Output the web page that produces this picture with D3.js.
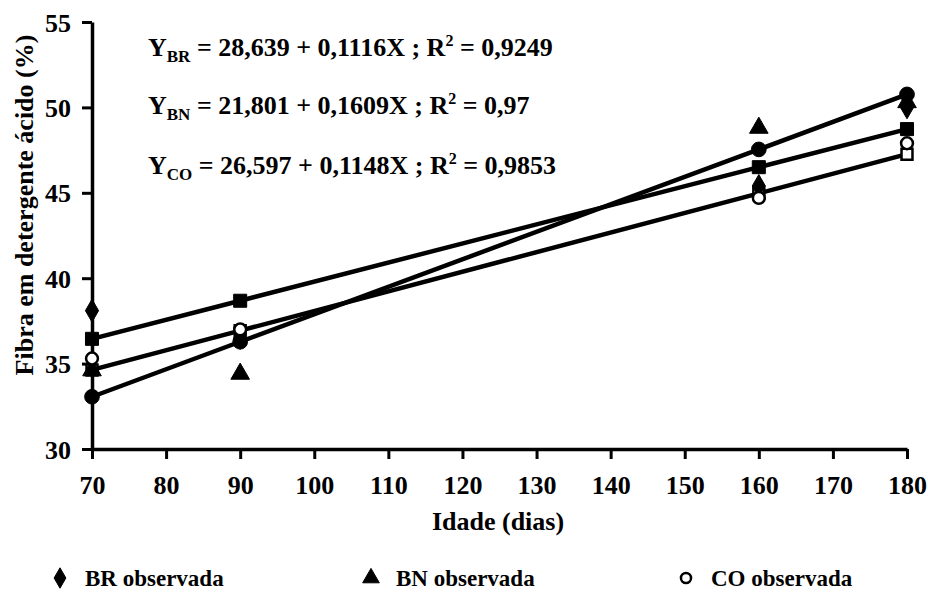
<!DOCTYPE html>
<html>
<head>
<meta charset="utf-8">
<script src="https://cdn.jsdelivr.net/npm/d3@7"></script>
<style>
  body { margin: 0; background: #fff; }
</style>
</head>
<body>
<svg id="chart" width="928" height="594"></svg>
<script>
// ages (dias)
var ages = [70, 90, 160, 180];
var xTicks = [70, 80, 90, 100, 110, 120, 130, 140, 150, 160, 170, 180];
var yTicks = [30, 35, 40, 45, 50, 55];

// fitted values (regression lines)
var brFit = [36.45, 38.68, 46.50, 48.73];
var bnFit = [33.06, 36.28, 47.54, 50.76];
var coFit = [34.63, 36.93, 44.97, 47.26];

// observed values
var brObs = [38.1, 36.5, 45.4, 50.0];
var bnObs = [34.6, 34.4, 48.8, 50.3];
var coObs = [35.3, 37.0, 44.7, 47.9];

var equations = [
  { sub: "BR", rest: " = 28,639 + 0,1116X ; R", r2: " = 0,9249" },
  { sub: "BN", rest: " = 21,801 + 0,1609X ; R", r2: " = 0,97" },
  { sub: "CO", rest: " = 26,597 + 0,1148X ; R", r2: " = 0,9853" }
];

var FONT = "Liberation Serif, serif";

var svg = d3.select("#chart")
  .attr("font-family", FONT).attr("font-weight", "bold");

var x = d3.scaleLinear().domain([70, 180]).range([92, 907]);
var y = d3.scaleLinear().domain([30, 55]).range([449, 22]);

// axes
var xAxis = svg.append("g").attr("transform", "translate(0,449)")
  .call(d3.axisBottom(x).tickValues(xTicks).tickSize(10).tickSizeOuter(0).tickPadding(17));
var yAxis = svg.append("g").attr("transform", "translate(92,0)")
  .call(d3.axisLeft(y).tickValues(yTicks).tickSize(10).tickSizeOuter(0).tickPadding(11));

[xAxis, yAxis].forEach(function (g) {
  g.attr("font-family", FONT).attr("font-size", 26).attr("font-weight", "bold");
  g.select(".domain").attr("stroke", "#000").attr("stroke-width", 3.5);
  g.selectAll(".tick line").attr("stroke", "#000").attr("stroke-width", 3);
  g.selectAll(".tick text").attr("fill", "#000");
});
yAxis.selectAll(".tick text").attr("dy", "0.35em");

// axis titles
svg.append("text").attr("x", 498).attr("y", 530).attr("text-anchor", "middle")
  .attr("font-size", 26).text("Idade (dias)");
svg.append("text").attr("transform", "translate(33,205) rotate(-90)").attr("text-anchor", "middle")
  .attr("font-size", 26).text("Fibra em detergente ácido (%)");

// regression lines
var line = d3.line().x(function (d, i) { return x(ages[i]); }).y(function (d) { return y(d); });
[brFit, bnFit, coFit].forEach(function (s) {
  svg.append("path").attr("d", line(s))
    .attr("fill", "none").attr("stroke", "#000").attr("stroke-width", 4.5)
    .attr("stroke-linecap", "round");
});

function marks(vals, type, size, filled) {
  svg.append("g").selectAll("path").data(vals).enter().append("path")
    .attr("d", d3.symbol().type(type).size(size))
    .attr("transform", function (d, i) { return "translate(" + x(ages[i]) + "," + y(d) + ")"; })
    .attr("fill", filled ? "#000" : "#fff")
    .attr("stroke", "#000").attr("stroke-width", filled ? 1 : 2.5);
}

// fitted points
marks(brFit, d3.symbolSquare, 170, true);
marks(bnFit, d3.symbolCircle, 170, true);
marks(coFit, d3.symbolSquare, 120, false);

// observed points
marks(brObs, d3.symbolDiamond, 150, true);
marks(bnObs, d3.symbolTriangle, 150, true);
marks(coObs, d3.symbolCircle, 110, false);

// equations
var eqY = [56, 114, 174];
equations.forEach(function (e, i) {
  var t = svg.append("text").attr("x", 148).attr("y", eqY[i]).attr("font-size", 26);
  t.append("tspan").text("Y");
  t.append("tspan").attr("dy", 6).attr("font-size", 17).text(e.sub);
  t.append("tspan").attr("dy", -6).text(e.rest);
  t.append("tspan").attr("dy", -10).attr("font-size", 16).text("2");
  t.append("tspan").attr("dy", 10).text(e.r2);
});

// legend
var legend = [
  { label: "BR observada", type: d3.symbolDiamond, filled: true, x: 60 },
  { label: "BN observada", type: d3.symbolTriangle, filled: true, x: 371 },
  { label: "CO observada", type: d3.symbolCircle, filled: false, x: 686 }
];
legend.forEach(function (l) {
  svg.append("path").attr("d", d3.symbol().type(l.type).size(l.filled ? 120 : 80))
    .attr("transform", "translate(" + l.x + ",578)")
    .attr("fill", l.filled ? "#000" : "#fff").attr("stroke", "#000")
    .attr("stroke-width", l.filled ? 1 : 2.5);
  svg.append("text").attr("x", l.x + 25).attr("y", 586).attr("font-size", 23).text(l.label);
});
</script>
</body>
</html>
